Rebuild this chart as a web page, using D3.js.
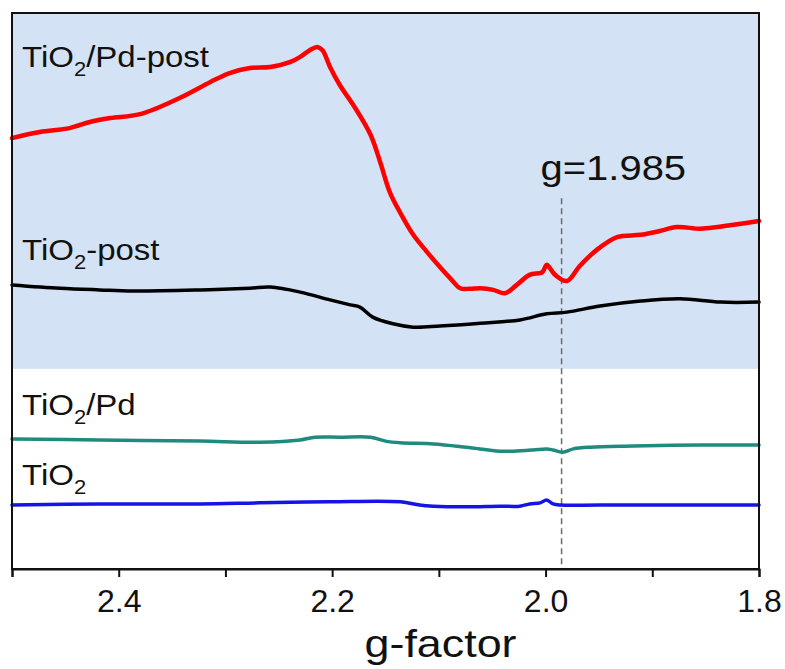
<!DOCTYPE html>
<html>
<head>
<meta charset="utf-8">
<script src="https://cdn.jsdelivr.net/npm/d3@7"></script>
<style>
  html, body { margin: 0; padding: 0; background: #fff; }
  svg text { font-family: Arial, "Liberation Sans", Helvetica, sans-serif; fill: #111; }
</style>
</head>
<body>
<svg id="chart" width="785" height="669"></svg>
<script>
// EPR spectra, intensity in arbitrary units (stacked, offset for clarity)
const gPdPost = [2.500, 2.474, 2.446, 2.427, 2.408, 2.380, 2.343, 2.314, 2.296, 2.277, 2.258, 2.239, 2.230, 2.221, 2.214, 2.209, 2.202, 2.193, 2.179, 2.164, 2.155, 2.146, 2.136, 2.124, 2.111, 2.099, 2.088, 2.080, 2.071, 2.061, 2.049, 2.038, 2.027, 2.015, 2.003, 1.999, 1.991, 1.980, 1.968, 1.952, 1.933, 1.911, 1.893, 1.877, 1.855, 1.839, 1.824, 1.800];
const iPdPost = [77.5, 78.6, 79.3, 80.4, 81.1, 81.8, 84.7, 87.6, 89.2, 90.1, 90.3, 91.2, 92.1, 93.3, 93.9, 93.3, 90.3, 87.1, 83.1, 78.1, 73.2, 67.8, 64.0, 60.1, 57.0, 54.3, 52.0, 50.5, 50.4, 50.5, 50.2, 49.6, 51.1, 52.9, 53.4, 54.7, 52.9, 51.8, 54.5, 57.4, 59.7, 60.1, 60.8, 61.5, 61.2, 61.5, 61.9, 62.6];

const gPost = [2.500, 2.455, 2.418, 2.387, 2.324, 2.277, 2.258, 2.230, 2.202, 2.183, 2.174, 2.162, 2.143, 2.124, 2.099, 2.061, 2.024, 1.999, 1.980, 1.949, 1.911, 1.874, 1.836, 1.800];
const iPost = [51.1, 50.5, 50.2, 50.0, 50.2, 50.5, 50.7, 49.8, 48.4, 47.5, 47.1, 45.3, 44.1, 43.5, 43.7, 44.2, 44.8, 45.9, 46.2, 47.3, 48.2, 48.6, 48.0, 48.0];

const gPd = [2.500, 2.418, 2.324, 2.268, 2.230, 2.216, 2.193, 2.164, 2.150, 2.136, 2.105, 2.074, 2.043, 2.030, 2.012, 1.999, 1.993, 1.984, 1.974, 1.958, 1.918, 1.855, 1.800];
const iPd = [23.4, 23.2, 23.0, 22.8, 23.2, 23.7, 23.7, 23.7, 23.0, 22.7, 22.5, 21.9, 21.2, 21.2, 21.4, 21.6, 21.4, 21.0, 21.6, 21.9, 22.1, 22.3, 22.3];

const gBare = [2.500, 2.418, 2.324, 2.268, 2.202, 2.136, 2.118, 2.105, 2.074, 2.043, 2.024, 2.015, 2.005, 1.999, 1.993, 1.986, 1.949, 1.800];
const iBare = [11.5, 11.7, 11.7, 11.9, 12.1, 12.1, 11.5, 11.3, 11.2, 11.3, 11.3, 11.7, 11.9, 12.4, 11.7, 11.5, 11.5, 11.5];

const xTicks = [2.5, 2.4, 2.3, 2.2, 2.1, 2.0, 1.9, 1.8];
const xTickLabels = ["", "2.4", "", "2.2", "", "2.0", "", "1.8"];
const gMarker = 1.985;
const gMarkerLabel = "g=1.985";

const series = [
  { name: "TiO2/Pd-post", g: gPdPost, v: iPdPost, color: "#ff0000", width: 4.5 },
  { name: "TiO2-post",    g: gPost,   v: iPost,   color: "#000000", width: 3.5 },
  { name: "TiO2/Pd",      g: gPd,     v: iPd,     color: "#1f8a7e", width: 3.5 },
  { name: "TiO2",         g: gBare,   v: iBare,   color: "#1414e6", width: 3.5 }
];

const W = 785, H = 669;
const margin = { top: 13, right: 26, bottom: 100, left: 12 };
const iw = W - margin.left - margin.right;
const ih = H - margin.top - margin.bottom;

const svg = d3.select("#chart");
const g = svg.append("g").attr("transform", `translate(${margin.left},${margin.top})`);

const x = d3.scaleLinear().domain([2.5, 1.8]).range([0, iw]);
const y = d3.scaleLinear().domain([0, 100]).range([ih, 0]);

// shaded band behind the post-reaction spectra
g.append("rect")
  .attr("x", 0).attr("y", y(100))
  .attr("width", iw).attr("height", y(36) - y(100))
  .attr("fill", "#d3e2f4");

// marker at g = 1.985
g.append("line")
  .attr("x1", x(gMarker)).attr("x2", x(gMarker))
  .attr("y1", y(66.7)).attr("y2", y(0.3))
  .attr("stroke", "#6b6b6b").attr("stroke-width", 1.5)
  .attr("stroke-dasharray", "6,4");

g.append("text")
  .attr("transform", `translate(${x(gMarker) - 21},${y((569 - 180) / 5.56)}) scale(1.11,1)`)
  .attr("font-size", 36)
  .text(gMarkerLabel);

const line = d3.line()
  .x(d => x(d[0])).y(d => y(d[1]))
  .curve(d3.curveCatmullRom.alpha(0.5));

series.forEach(s => {
  g.append("path")
    .datum(s.g.map((gv, i) => [gv, s.v[i]]))
    .attr("fill", "none")
    .attr("stroke", s.color)
    .attr("stroke-width", s.width)
    .attr("stroke-linejoin", "round")
    .attr("stroke-linecap", "round")
    .attr("d", line);
});

// series labels with subscript 2
const labels = [
  { pre: "TiO", post: "/Pd-post", yv: (569 - 67) / 5.56 },
  { pre: "TiO", post: "-post",    yv: (569 - 260) / 5.56 },
  { pre: "TiO", post: "/Pd",      yv: (569 - 415) / 5.56 },
  { pre: "TiO", post: "",         yv: (569 - 485) / 5.56 }
];
labels.forEach(l => {
  const t = g.append("text")
    .attr("transform", `translate(10,${y(l.yv)}) scale(1.1,1)`)
    .attr("font-size", 30);
  t.append("tspan").text(l.pre);
  t.append("tspan").attr("font-size", 20).attr("dy", 9).text("2");
  if (l.post) t.append("tspan").attr("dy", -9).text(l.post);
});

// frame
g.append("rect")
  .attr("x", 0).attr("y", 0).attr("width", iw).attr("height", ih)
  .attr("fill", "none").attr("stroke", "#111").attr("stroke-width", 2);

// bottom axis
const xAxis = d3.axisBottom(x)
  .tickValues(xTicks)
  .tickSize(8)
  .tickPadding(12)
  .tickFormat((d, i) => xTickLabels[i]);

const ax = g.append("g")
  .attr("transform", `translate(0,${ih})`)
  .call(xAxis);
ax.select(".domain").attr("stroke", "#111").attr("stroke-width", 2);
ax.selectAll(".tick line").attr("stroke", "#111").attr("stroke-width", 2);
ax.selectAll(".tick text")
  .attr("font-size", 32)
  .attr("font-family", "Arial, 'Liberation Sans', sans-serif")
  .attr("fill", "#111");

g.append("text")
  .attr("transform", `translate(${x(2.5) + (x(1.8) - x(2.5)) / 2 + 55},${ih + 88}) scale(1.18,1)`)
  .attr("text-anchor", "middle")
  .attr("font-size", 38)
  .text("g-factor");
</script>
</body>
</html>
